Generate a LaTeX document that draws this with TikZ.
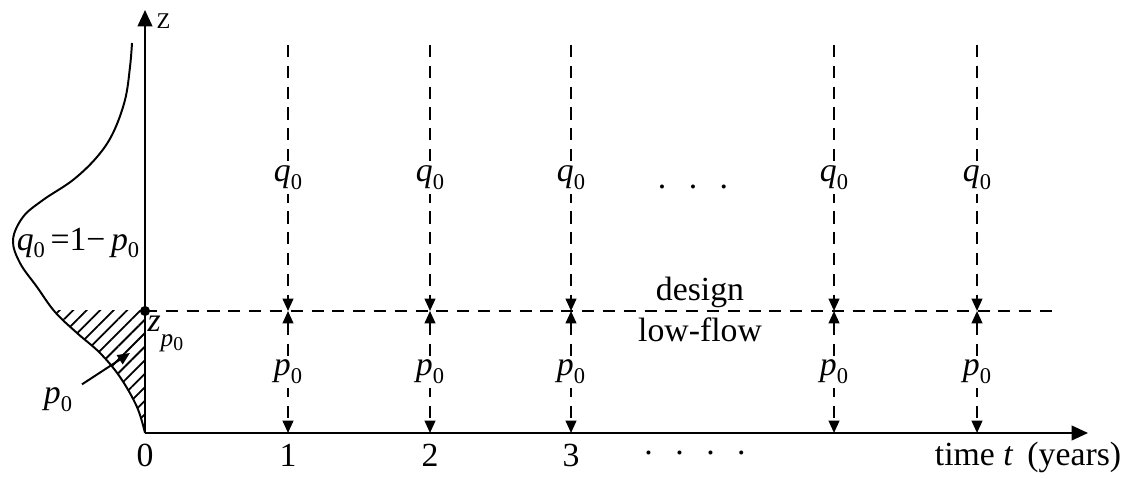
\documentclass[tikz,border=0pt]{standalone}
\usepackage{fontspec}
\setmainfont{Liberation Serif}
\usepackage{tikz}
\usetikzlibrary{arrows.meta, positioning, patterns.meta}

\newcommand{\sym}[2]{\textit{#1}\raisebox{-0.5ex}{\footnotesize #2}}

\begin{document}
\begin{tikzpicture}[
  x=0.0125cm, y=-0.0125cm,
  font=\fontsize{12}{14}\selectfont,
  >={Triangle[length=4.4pt, width=3.8pt]},
  axis/.style={line width=0.7pt, -{Triangle[length=5.8pt, width=5.2pt]}},
  guide/.style={line width=0.7pt, dash pattern=on 4.3pt off 3.1pt},
  lbl/.style={fill=white, inner sep=1.5pt}
]
  \useasboundingbox (0,0) rectangle (1121,478);

  \coordinate (O) at (145,433);
  \coordinate (Ztop) at (145,10);
  \coordinate (Tend) at (1088,433);
  \coordinate (Zp) at (145,311);
  \coordinate (Dend) at (1060,311);
  \coordinate (hatchpt) at (130,353);

  % hatched tail below the design low-flow
  \begin{scope}
    \clip (0,311) rectangle (145,433);
    \fill[pattern={Lines[angle=45, distance=3.4pt, line width=0.65pt]}]
      plot[smooth, tension=0.6] coordinates {(132,43) (130,67) (125,100) (113,133) (97,157) (73,180) (43,200) (23,217) (13,240) (20,263) (37,287) (55,312) (77,333) (100,353) (120,377) (137,407) (145,433)}
      -- (145,43) -- cycle;
  \end{scope}

  % density curve
  \draw[line width=0.7pt] plot[smooth, tension=0.6] coordinates {(132,43) (130,67) (125,100) (113,133) (97,157) (73,180) (43,200) (23,217) (13,240) (20,263) (37,287) (55,312) (77,333) (100,353) (120,377) (137,407) (145,433)};

  % axes
  \draw[axis] (O) -- (Ztop);
  \draw[axis] (O) -- (Tend);
  \node[anchor=west, inner sep=0, font=\fontsize{8}{9}\selectfont] (zlab) at (156,21) {Z};

  % design low-flow level
  \draw[guide] (Zp) -- (Dend);
  \fill (Zp) circle (1.8pt);
  \node[anchor=north west, inner sep=0] (zp0) at (147,315) {\textit{z}\raisebox{-1ex}{\small\textit{p}\raisebox{-0.35ex}{\scriptsize 0}}};

  \node (qform) at (78,243) {\sym{q}{0}\hspace{2pt}=1−\hspace{2pt}\sym{p}{0}};
  \node (p0lbl) at (58,400) {\sym{p}{0}};
  \draw[line width=0.7pt, ->] (p0lbl) -- (hatchpt);

  \node (dsg) at (700,292) {design};
  \node (lfw) at (700,330) {low-flow};

  % years
  \foreach \x [count=\i] in {288, 430, 571, 834, 977} {
    \coordinate (top\i) at (\x,45);
    \coordinate (mid\i) at (\x,311);
    \coordinate (bot\i) at (\x,433);
    \draw[guide, ->] (top\i) -- node[lbl] {\sym{q}{0}} (mid\i);
    \draw[guide, <->] (mid\i) -- node[lbl] {\sym{p}{0}} (bot\i);
  }

  \foreach \x/\n in {145/0, 288/1, 430/2, 571/3}
    \node (tk\n) at (\x,455) {\n};

  \node (dotsq) at (693,187) {.\hspace{8pt}.\hspace{8pt}.};
  \node (dotst) at (695,453) {.\hspace{8pt}.\hspace{8pt}.\hspace{8pt}.};
  \node (tlab) at (1028,457) {time \textit{t}\, (years)};
\end{tikzpicture}
\end{document}
